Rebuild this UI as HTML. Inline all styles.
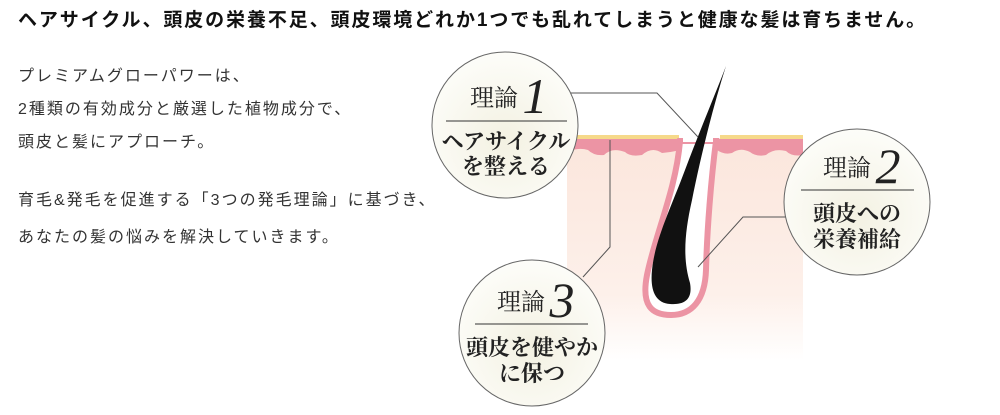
<!DOCTYPE html>
<html><head><meta charset="utf-8"><style>
body{margin:0;width:1000px;height:415px;background:#fff;position:relative;overflow:hidden;font-family:"Liberation Sans","Noto Sans CJK JP",sans-serif;color:#222}
.t{position:absolute;left:18px;top:5px;font-size:19px;letter-spacing:1.9px;font-weight:bold;white-space:nowrap;color:#111}
.p{position:absolute;left:18px;font-size:16px;letter-spacing:2px;white-space:nowrap;color:#333}
</style></head><body>
<div class="t">ヘアサイクル、頭皮の栄養不足、頭皮環境どれか1つでも乱れてしまうと健康な髪は育ちません。</div>
<div class="p" style="top:62px">プレミアムグローパワーは、</div>
<div class="p" style="top:95px">2種類の有効成分と厳選した植物成分で、</div>
<div class="p" style="top:128px">頭皮と髪にアプローチ。</div>
<div class="p" style="top:186px">育毛&amp;発毛を促進する「3つの発毛理論」に基づき、</div>
<div class="p" style="top:223px">あなたの髪の悩みを解決していきます。</div>
<svg width="1000" height="415" style="position:absolute;left:0;top:0">
<defs>
<linearGradient id="bg" x1="0" y1="0" x2="0" y2="1"><stop offset="0" stop-color="#fbe6dc"/><stop offset="0.7" stop-color="#fdf0ea"/><stop offset="1" stop-color="#fff"/></linearGradient>
<radialGradient id="cg" cx="0.5" cy="0.6" r="0.6"><stop offset="0" stop-color="#f3f1e2"/><stop offset="1" stop-color="#fdfdf9"/></radialGradient>
</defs>
<rect x="567" y="140" width="236" height="220" fill="url(#bg)"/>
<rect x="567" y="135" width="112" height="6" fill="#f6d98a"/>
<rect x="720" y="135" width="83" height="6" fill="#f6d98a"/>
<path d="M567 139 L681 139 L681 150 Q672 152 662 153 Q652 146 642 155 Q630 157 625 152 Q612 147 604 155 Q594 156 588 150 Q578 147 567 152 Z" fill="#ec94a4"/>
<path d="M717 139 L803 139 L803 155 Q792 157 786 151 Q774 148 766 155 Q756 157 750 152 Q740 147 732 153 Q724 155 717 150 Z" fill="#ec94a4"/>
<path d="M680 141 C676 190 655 235 647 275 C641 306 652 315 671 315 C692 315 705 300 706 270 C707 230 711 180 716 141 Z" fill="#fff" stroke="#ec94a4" stroke-width="6"/>
<rect x="683" y="136" width="30" height="6" fill="#fff"/>
<path d="M726 66 C712 110 700 160 692 200 C684 235 683 260 690 283 C693 300 684 305 670 304 C655 303 650 290 652 270 C655 240 670 210 685 170 C700 130 715 95 726 66 Z" fill="#111"/>
<g stroke="#555" stroke-width="1" fill="none">
<polyline points="564,93 657,93 698,137"/>
<polyline points="583,277 610,247 610,140"/>
<polyline points="790,217 743,217 698,267"/>
</g>
<g stroke="#666" stroke-width="1" fill="url(#cg)">
<circle cx="505" cy="125" r="73"/>
<circle cx="857" cy="202" r="73"/>
<circle cx="532" cy="333" r="73"/>
</g>
<g stroke="#333" stroke-width="1">
<line x1="446" y1="121" x2="567" y2="121"/>
<line x1="801" y1="190" x2="914" y2="190"/>
<line x1="475" y1="324" x2="588" y2="324"/>
</g>
<g font-family="'Liberation Serif','Noto Serif CJK SC',serif" fill="#222" text-anchor="middle">
<text x="494" y="106" font-size="24">理論</text>
<text x="535" y="113" font-size="50" font-style="italic">1</text>
<text x="506" y="149" font-size="22" font-weight="bold">ヘアサイクル</text>
<text x="506" y="174" font-size="22" font-weight="bold">を整える</text>
<text x="847" y="176" font-size="24">理論</text>
<text x="888" y="183" font-size="50" font-style="italic">2</text>
<text x="857" y="221" font-size="22" font-weight="bold">頭皮への</text>
<text x="857" y="247" font-size="22" font-weight="bold">栄養補給</text>
<text x="521" y="310" font-size="24">理論</text>
<text x="562" y="317" font-size="50" font-style="italic">3</text>
<text x="532" y="355" font-size="22" font-weight="bold">頭皮を健やか</text>
<text x="532" y="381" font-size="22" font-weight="bold">に保つ</text>
</g>
</svg>
</body></html>
